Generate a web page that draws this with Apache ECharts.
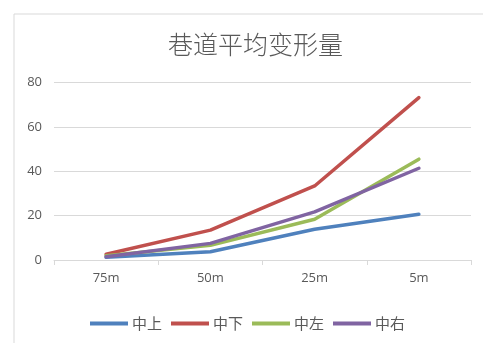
<!DOCTYPE html>
<html><head><meta charset="utf-8">
<script src="https://cdn.jsdelivr.net/npm/echarts@6/dist/echarts.min.js"></script>
<style>html,body{margin:0;padding:0;background:#fff}#c{width:483px;height:343px}</style>
</head><body><div id="c"></div>
<script>
const categories = ['75m', '50m', '25m', '5m'];
const seriesNames = ['中上', '中下', '中左', '中右'];
const zhongShang = [1.2, 3.7, 13.9, 20.6];
const zhongXia = [2.6, 13.5, 33.4, 73.3];
const zhongZuo = [1.9, 6.6, 18.4, 45.5];
const zhongYou = [1.5, 7.5, 21.7, 41.4];
const yTicks = [0, 20, 40, 60, 80];
const colors = ['#4F81BD', '#C0504D', '#9BBB59', '#8064A2'];
const allData = [zhongShang, zhongXia, zhongZuo, zhongYou];

const chart = echarts.init(document.getElementById('c'));
chart.setOption({
  animation: false,
  color: colors,
  graphic: [{type: 'rect', left: 11.5, top: 11.5, shape: {x: 0, y: 0, width: 520, height: 400},
    style: {fill: 'none', stroke: '#d9d9d9', lineWidth: 1}, silent: true, z: -1}],
  title: {text: '巷道平均变形量', left: 163, top: 27,
    textStyle: {fontFamily: 'Noto Sans CJK SC', fontWeight: 300, fontSize: 25, color: '#595959'}},
  grid: {left: 54, right: 12, top: 82.7, bottom: 83},
  legend: {left: 85, top: 311, icon: 'rect', itemWidth: 38, itemHeight: 4, itemGap: 9,
    textStyle: {fontFamily: 'Noto Sans CJK SC', fontSize: 15, color: '#595959', padding: [0, 0, 0, -1]},
    data: seriesNames},
  xAxis: {type: 'category', data: categories, boundaryGap: true,
    axisLine: {lineStyle: {color: '#d9d9d9', width: 1}},
    axisTick: {show: true, length: 5, lineStyle: {color: '#d9d9d9'}},
    axisLabel: {margin: 12, fontSize: 13, color: '#595959', fontFamily: 'Open Sans'}},
  yAxis: {type: 'value', min: yTicks[0], max: yTicks[yTicks.length - 1], interval: 20,
    axisLine: {show: false}, axisTick: {show: false},
    splitLine: {lineStyle: {color: '#d9d9d9', width: 1}},
    axisLabel: {margin: 12, fontSize: 13, color: '#595959', fontFamily: 'Open Sans'}},
  series: seriesNames.map((n, i) => ({
    name: n, type: 'line', data: allData[i], symbol: 'none',
    lineStyle: {width: 3.5, color: colors[i], cap: 'round', join: 'round'}
  }))
});
</script></body></html>
